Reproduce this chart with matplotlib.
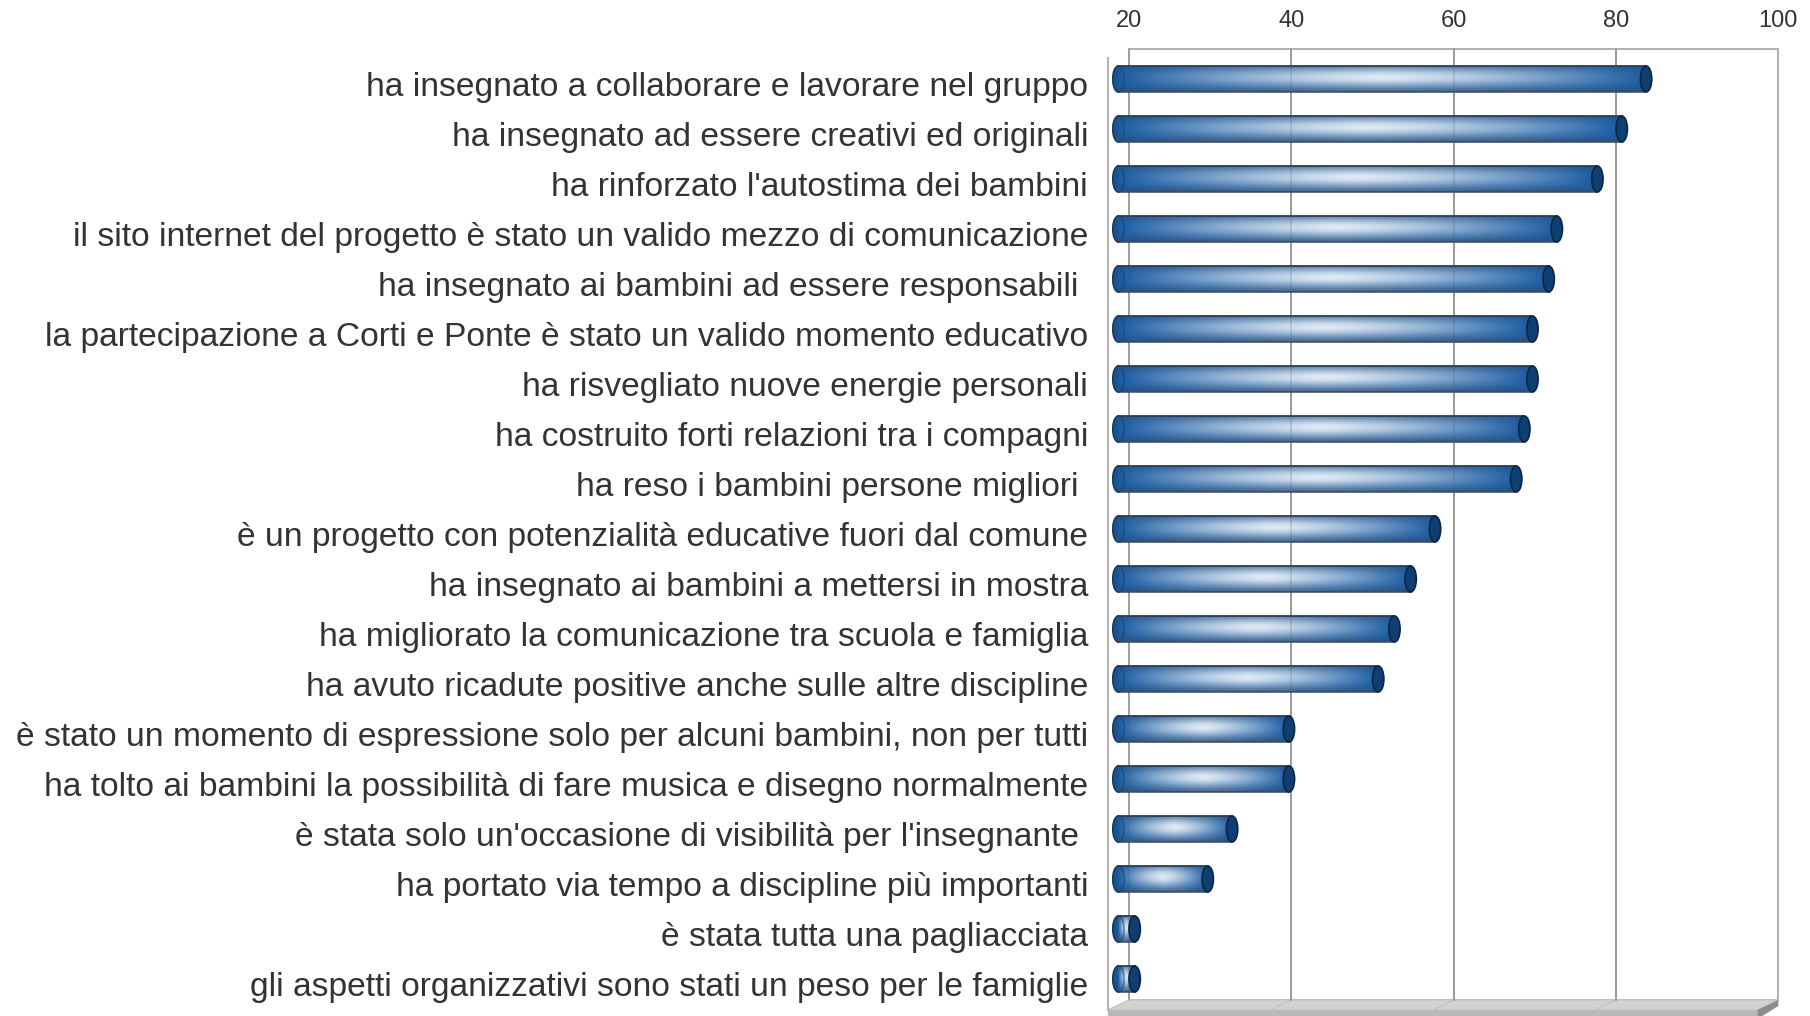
import numpy as np
import matplotlib
matplotlib.use("Agg")
import matplotlib.pyplot as plt
from matplotlib.patches import Rectangle, Ellipse, Polygon
from matplotlib.transforms import ScaledTranslation

plt.rcParams['font.family'] = ['Liberation Sans', 'DejaVu Sans']

categories = [
    "ha insegnato a collaborare e lavorare nel gruppo",
    "ha insegnato ad essere creativi ed originali",
    "ha rinforzato l'autostima dei bambini",
    "il sito internet del progetto è stato un valido mezzo di comunicazione",
    "ha insegnato ai bambini ad essere responsabili ",
    "la partecipazione a Corti e Ponte è stato un valido momento educativo",
    "ha risvegliato nuove energie personali",
    "ha costruito forti relazioni tra i compagni",
    "ha reso i bambini persone migliori ",
    "è un progetto con potenzialità educative fuori dal comune",
    "ha insegnato ai bambini a mettersi in mostra",
    "ha migliorato la comunicazione tra scuola e famiglia",
    "ha avuto ricadute positive anche sulle altre discipline",
    "è stato un momento di espressione solo per alcuni bambini, non per tutti",
    "ha tolto ai bambini la possibilità di fare musica e disegno normalmente",
    "è stata solo un'occasione di visibilità per l'insegnante ",
    "ha portato via tempo a discipline più importanti",
    "è stata tutta una pagliacciata",
    "gli aspetti organizzativi sono stati un peso per le famiglie",
]
values = [84, 81, 78, 73, 72, 70, 70, 69, 68, 58, 55, 53, 51, 40, 40, 33, 30, 21, 21]
x_ticks = [20, 40, 60, 80, 100]

W, H = 1810, 1016
fig = plt.figure(figsize=(W / 100, H / 100), dpi=100)
fig.patch.set_facecolor("white")
ax = fig.add_axes([1100 / W, 0, 690 / W, 976 / H])
ax.set_facecolor("none")
ax.set_xlim(16.43, 101.43)
ax.set_ylim(18.74, -0.78)
for s in ax.spines.values():
    s.set_visible(False)

# --- 3D frame: back wall, grid, floor, front axis
wall_top, wall_bot = -0.6, 18.42
front_dx, front_dy = -2.6, 0.2
ax.add_patch(Rectangle((20, wall_top), 80, wall_bot - wall_top, fc="white",
                       ec="#b0b0b0", lw=1.4, zorder=1))
for g in x_ticks[1:-1]:
    ax.plot([g, g], [wall_top, wall_bot], color="#a9a9a9", lw=1.4, zorder=1.5)
# floor
ax.add_patch(Polygon([(20, wall_bot), (100, wall_bot), (100 + front_dx, wall_bot + front_dy),
                      (20 + front_dx, wall_bot + front_dy)], closed=True,
                     fc="#d2d2d2", ec="#c4c4c4", lw=1, zorder=1.2))
ax.add_patch(Polygon([(20 + front_dx, wall_bot + front_dy), (100 + front_dx, wall_bot + front_dy),
                      (100 + front_dx, 18.8), (20 + front_dx, 18.8)], closed=True,
                     fc="#b9b9b9", ec="none", zorder=1.2))
ax.add_patch(Polygon([(100, wall_bot), (100, wall_bot + 0.12), (100 + front_dx, 18.8),
                      (100 + front_dx, wall_bot + front_dy)], closed=True,
                     fc="#8c8c8c", ec="none", zorder=1.3))
for g in x_ticks[1:-1]:
    ax.plot([g, g + front_dx], [wall_bot, wall_bot + front_dy], color="#c2c2c2", lw=1, zorder=1.3)
ax.plot([20 + front_dx, 20 + front_dx], [-0.42, wall_bot + front_dy], color="#b0b0b0",
        lw=1.4, zorder=1.4)

# --- cylinder gradient texture
nw, nh = 400, 60
xr = np.linspace(0, 1, nw)
yr = np.linspace(0, 1, nh)
hx = np.clip(1 - np.abs(2 * xr - 1) ** 1.35, 0, 1)
vb = 0.32 + 0.68 * np.exp(-((yr - 0.40) / 0.40) ** 2)
mix = (hx[None, :] * vb[:, None]) * 0.95
dark = np.array([0.10, 0.36, 0.64])
light = np.array([0.92, 0.95, 0.98])
img = dark[None, None, :] + (light - dark)[None, None, :] * mix[..., None]
edge = np.abs(2 * yr - 1) ** 2.2 * np.where(yr > 0.5, 0.62, 0.40)
edgecol = np.array([0.18, 0.28, 0.40])
img = img * (1 - edge[:, None, None]) + edgecol[None, None, :] * edge[:, None, None]

bar_start = 18.7
half_h = 0.26
cap_w = 1.4
for i, v in enumerate(values):
    end = v - 0.3
    ax.add_patch(Ellipse((bar_start, i), cap_w, 2 * half_h, fc="#1b5590", ec="#16324f",
                         lw=1.1, zorder=3))
    im = ax.imshow(img, extent=(bar_start, end, i + half_h, i - half_h), origin="upper",
                   aspect="auto", interpolation="bilinear", zorder=4)
    clip = Rectangle((bar_start, i - half_h), end - bar_start, 2 * half_h, transform=ax.transData,
                     fc="none", ec="none")
    im.set_clip_path(clip)
    ax.plot([bar_start, end], [i - half_h, i - half_h], color="#2b3d52", lw=1.3, zorder=5)
    ax.plot([bar_start, end], [i + half_h, i + half_h], color="#3a4a5c", lw=1.1, zorder=5)
    ax.add_patch(Ellipse((bar_start, i), cap_w, 2 * half_h, fc="none", ec="#1d3f63",
                         lw=1.0, alpha=0.6, zorder=5))
    ax.add_patch(Ellipse((end, i), cap_w, 2 * half_h, fc="#0f3e70", ec="#0b2642",
                         lw=1.2, zorder=6))

for g in x_ticks[:-1]:
    ax.plot([g, g], [wall_top, wall_bot], color="#4a5a6a", lw=1.2, alpha=0.22, zorder=5.5)

# --- ticks and labels
ax.xaxis.tick_top()
ax.set_xticks(x_ticks)
ax.set_xticklabels([str(t) for t in x_ticks])
ax.tick_params(axis="x", length=0, pad=5.5, labelsize=17, labelcolor="#333333")
ax.set_yticks(range(len(categories)))
ax.set_yticklabels(categories)
ax.tick_params(axis="y", length=0, pad=8.6, labelsize=24.2, labelcolor="#333333")
shift = ScaledTranslation(0, -5 / 100, fig.dpi_scale_trans)
for lab in ax.get_yticklabels():
    lab.set_transform(lab.get_transform() + shift)

fig.savefig("out.png", dpi=100, facecolor="white")
